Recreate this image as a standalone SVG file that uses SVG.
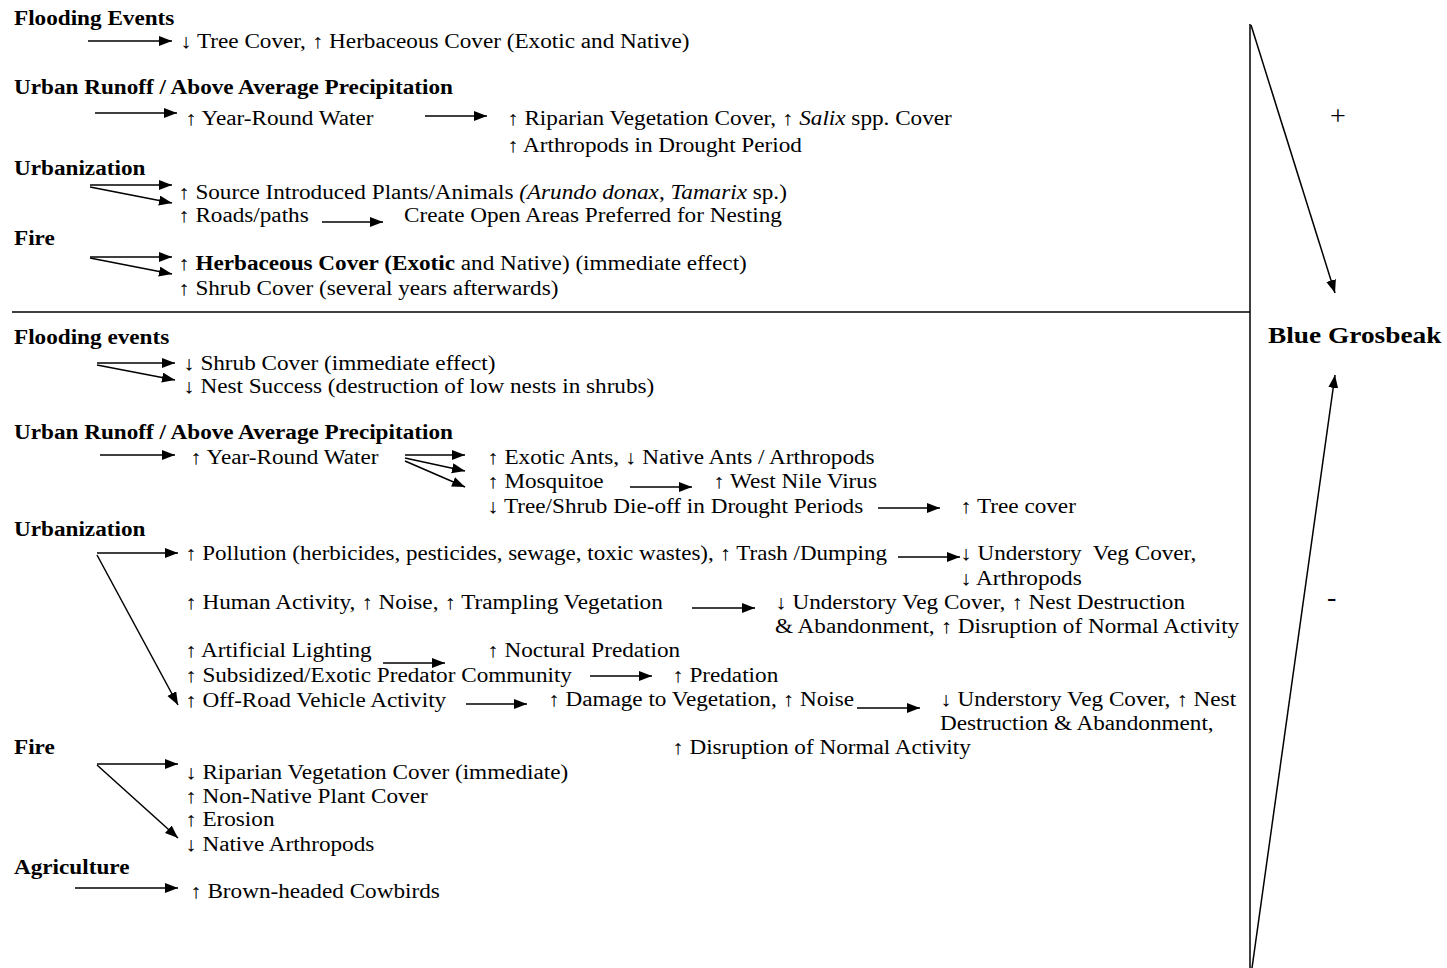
<svg xmlns="http://www.w3.org/2000/svg" width="1447" height="968" viewBox="0 0 1447 968">
<style>
.t{font-family:"Liberation Serif","Times New Roman",serif;font-size:20px;fill:#000;white-space:pre}
.b{font-weight:bold}
.i{font-style:italic}
.big{font-size:24px;font-weight:bold}
.sym{font-size:28px}
.c line{stroke:#000;stroke-width:1.5;marker-end:url(#ah)}
.frame{stroke:#000;stroke-width:1.5;fill:none}
</style>
<defs>
<marker id="ah" markerUnits="userSpaceOnUse" markerWidth="14" markerHeight="11" refX="13" refY="5" orient="auto">
<path d="M0,0 L13,5 L0,10 z" fill="#000"/>
</marker>
</defs>
<rect width="1447" height="968" fill="#fff"/>
<g id="frame">
<line class="frame" x1="12" y1="312" x2="1250" y2="312"/>
<line class="frame" x1="1250" y1="24" x2="1250" y2="968"/>
</g>
<g id="top-section">
<g id="n-flood-top"><text class="t b" transform="translate(14,25) scale(1.16,1)">Flooding Events</text></g>
<g id="n-treecover"><text class="t" transform="translate(180,48) scale(1.16,1)">↓ Tree Cover, ↑ Herbaceous Cover (Exotic and Native)</text></g>
<g id="n-runoff-top"><text class="t b" transform="translate(14,94) scale(1.16,1)">Urban Runoff / Above Average Precipitation</text></g>
<g id="n-water-top"><text class="t" transform="translate(185,125) scale(1.16,1)">↑ Year-Round Water</text></g>
<g id="n-riparian-top"><text class="t" transform="translate(507,125) scale(1.16,1)">↑ Riparian Vegetation Cover, ↑ <tspan class="i">Salix</tspan> spp. Cover</text>
<text class="t" transform="translate(507,152) scale(1.16,1)">↑ Arthropods in Drought Period</text></g>
<g id="n-urban-top"><text class="t b" transform="translate(14,175) scale(1.16,1)">Urbanization</text></g>
<g id="n-source"><text class="t" transform="translate(178,199) scale(1.16,1)">↑ Source Introduced Plants/Animals <tspan class="i">(Arundo donax</tspan>, <tspan class="i">Tamarix</tspan> sp.)</text></g>
<g id="n-roads"><text class="t" transform="translate(178,222) scale(1.16,1)">↑ Roads/paths</text></g>
<g id="n-open"><text class="t" transform="translate(404,222) scale(1.16,1)">Create Open Areas Preferred for Nesting</text></g>
<g id="n-fire-top"><text class="t b" transform="translate(14,245) scale(1.16,1)">Fire</text></g>
<g id="n-herb"><text class="t" transform="translate(178,270) scale(1.16,1)">↑ <tspan class="b">Herbaceous Cover (Exotic</tspan> and Native) (immediate effect)</text></g>
<g id="n-shrub"><text class="t" transform="translate(178,295) scale(1.16,1)">↑ Shrub Cover (several years afterwards)</text></g>
</g>
<g id="bottom-section">
<g id="n-flood-bot"><text class="t b" transform="translate(14,344) scale(1.16,1)">Flooding events</text></g>
<g id="n-shrubcover"><text class="t" transform="translate(183,370) scale(1.16,1)">↓ Shrub Cover (immediate effect)</text></g>
<g id="n-nest"><text class="t" transform="translate(183,393) scale(1.16,1)">↓ Nest Success (destruction of low nests in shrubs)</text></g>
<g id="n-runoff-bot"><text class="t b" transform="translate(14,439) scale(1.16,1)">Urban Runoff / Above Average Precipitation</text></g>
<g id="n-water-bot"><text class="t" transform="translate(190,464) scale(1.16,1)">↑ Year-Round Water</text></g>
<g id="n-ants"><text class="t" transform="translate(487,464) scale(1.16,1)">↑ Exotic Ants, ↓ Native Ants / Arthropods</text></g>
<g id="n-mosq"><text class="t" transform="translate(487,488) scale(1.16,1)">↑ Mosquitoe</text></g>
<g id="n-wnv"><text class="t" transform="translate(713,488) scale(1.16,1)">↑ West Nile Virus</text></g>
<g id="n-dieoff"><text class="t" transform="translate(487,513) scale(1.16,1)">↓ Tree/Shrub Die-off in Drought Periods</text></g>
<g id="n-treecov2"><text class="t" transform="translate(960,513) scale(1.16,1)">↑ Tree cover</text></g>
<g id="n-urban-bot"><text class="t b" transform="translate(14,536) scale(1.16,1)">Urbanization</text></g>
<g id="n-pollution"><text class="t" transform="translate(185,560) scale(1.15,1)">↑ Pollution (herbicides, pesticides, sewage, toxic wastes), ↑ Trash /Dumping</text></g>
<g id="n-under1"><text class="t" transform="translate(960,560) scale(1.16,1)">↓ Understory  Veg Cover,</text>
<text class="t" transform="translate(960,585) scale(1.16,1)">↓ Arthropods</text></g>
<g id="n-human"><text class="t" transform="translate(185,609) scale(1.16,1)">↑ Human Activity, ↑ Noise, ↑ Trampling Vegetation</text></g>
<g id="n-under2"><text class="t" transform="translate(775,609) scale(1.16,1)">↓ Understory Veg Cover, ↑ Nest Destruction</text>
<text class="t" transform="translate(775,633) scale(1.16,1)">&amp; Abandonment, ↑ Disruption of Normal Activity</text></g>
<g id="n-light"><text class="t" transform="translate(185,657) scale(1.16,1)">↑ Artificial Lighting</text></g>
<g id="n-noct"><text class="t" transform="translate(487,657) scale(1.16,1)">↑ Noctural Predation</text></g>
<g id="n-pred"><text class="t" transform="translate(185,682) scale(1.16,1)">↑ Subsidized/Exotic Predator Community</text></g>
<g id="n-predation"><text class="t" transform="translate(672,682) scale(1.16,1)">↑ Predation</text></g>
<g id="n-ohv"><text class="t" transform="translate(185,707) scale(1.16,1)">↑ Off-Road Vehicle Activity</text></g>
<g id="n-damage"><text class="t" transform="translate(548,706) scale(1.16,1)">↑ Damage to Vegetation, ↑ Noise</text></g>
<g id="n-under3"><text class="t" transform="translate(940,706) scale(1.16,1)">↓ Understory Veg Cover, ↑ Nest</text>
<text class="t" transform="translate(940,730) scale(1.16,1)">Destruction &amp; Abandonment,</text>
<text class="t" transform="translate(672,754) scale(1.16,1)">↑ Disruption of Normal Activity</text></g>
<g id="n-fire-bot"><text class="t b" transform="translate(14,754) scale(1.16,1)">Fire</text></g>
<g id="n-fire-effects"><text class="t" transform="translate(185,779) scale(1.16,1)">↓ Riparian Vegetation Cover (immediate)</text>
<text class="t" transform="translate(185,803) scale(1.16,1)">↑ Non-Native Plant Cover</text>
<text class="t" transform="translate(185,826) scale(1.16,1)">↑ Erosion</text>
<text class="t" transform="translate(185,851) scale(1.16,1)">↓ Native Arthropods</text></g>
<g id="n-agri"><text class="t b" transform="translate(14,874) scale(1.16,1)">Agriculture</text></g>
<g id="n-cowbird"><text class="t" transform="translate(190,898) scale(1.16,1)">↑ Brown-headed Cowbirds</text></g>
</g>
<g id="n-grosbeak"><text class="t big" transform="translate(1268,343) scale(1.14,1)">Blue Grosbeak</text></g>
<g id="n-plus"><text class="t sym" transform="translate(1330,125)">+</text></g>
<g id="n-minus"><text class="t sym" transform="translate(1327,606)">-</text></g>
<g id="connectors" class="c">
<line x1="88" y1="41" x2="172" y2="41"/>
<line x1="95" y1="113" x2="177" y2="113"/>
<line x1="425" y1="116" x2="487" y2="116"/>
<line x1="90" y1="185" x2="172" y2="185"/>
<line x1="90" y1="187" x2="172" y2="203"/>
<line x1="322" y1="222" x2="383" y2="222"/>
<line x1="90" y1="257" x2="172" y2="257"/>
<line x1="90" y1="258" x2="172" y2="274"/>
<line x1="97" y1="363" x2="175" y2="363"/>
<line x1="97" y1="365" x2="175" y2="380"/>
<line x1="100" y1="455" x2="175" y2="455"/>
<line x1="405" y1="455" x2="465" y2="455"/>
<line x1="405" y1="458" x2="465" y2="471"/>
<line x1="405" y1="461" x2="465" y2="487"/>
<line x1="630" y1="487" x2="692" y2="487"/>
<line x1="878" y1="508" x2="940" y2="508"/>
<line x1="97" y1="553" x2="178" y2="553"/>
<line x1="97" y1="555" x2="178" y2="705"/>
<line x1="898" y1="557" x2="960" y2="557"/>
<line x1="692" y1="608" x2="755" y2="608"/>
<line x1="383" y1="663" x2="445" y2="663"/>
<line x1="590" y1="676" x2="652" y2="676"/>
<line x1="466" y1="704" x2="527" y2="704"/>
<line x1="857" y1="708" x2="920" y2="708"/>
<line x1="97" y1="764" x2="178" y2="764"/>
<line x1="97" y1="765" x2="178" y2="838"/>
<line x1="75" y1="888" x2="178" y2="888"/>
<line x1="1251" y1="25" x2="1335" y2="293"/>
<line x1="1252" y1="968" x2="1335" y2="375"/>
</g>
</svg>
